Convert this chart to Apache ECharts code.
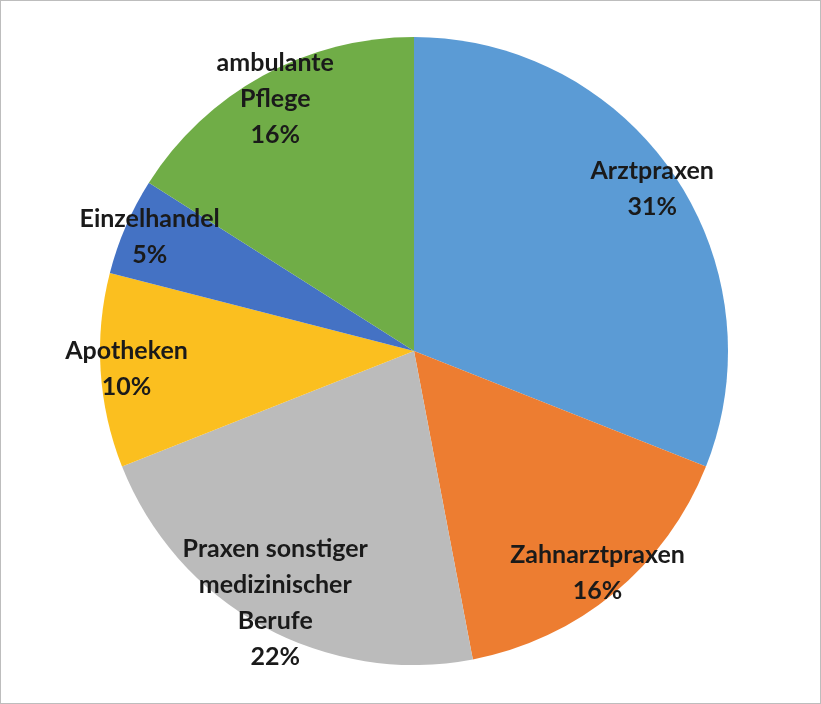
<!DOCTYPE html>
<html>
<head>
<meta charset="utf-8">
<script src="https://cdn.jsdelivr.net/npm/echarts@6/dist/echarts.min.js"></script>
<style>
  html, body { margin: 0; padding: 0; background: #fff; }
  #chart { width: 819px; height: 702px; border: 1px solid #bdbdbd; }
</style>
</head>
<body>
<div id="chart"></div>
<script>
// Anteile je Bereich, im Uhrzeigersinn ab 12 Uhr
var categories = ['Arztpraxen', 'Zahnarztpraxen', 'Praxen sonstiger\nmedizinischer\nBerufe', 'Apotheken', 'Einzelhandel', 'ambulante\nPflege'];
var values = [31, 16, 22, 10, 5, 16];
var colors = ['#5B9BD5', '#ED7D31', '#BBBBBB', '#FBBF1F', '#4472C4', '#70AD47'];

var chart = echarts.init(document.getElementById('chart'));

var pieData = categories.map(function (c, i) {
    return {name: c, value: values[i], itemStyle: {color: colors[i]}};
});
// zweite (unsichtbare) Serie nur für die Beschriftung weiter außen
var labelData = categories.map(function (c, i) {
    return {name: c, value: values[i]};
});

chart.setOption({
    animation: false,
    series: [
        {
            type: 'pie',
            center: [413, 350],
            radius: [0, 314],
            startAngle: 90,
            clockwise: true,
            label: {show: false},
            labelLine: {show: false},
            itemStyle: {borderColor: '#fff', borderWidth: 0},
            data: pieData
        },
        {
            type: 'pie',
            silent: true,
            center: [413, 350],
            radius: [0, 570],
            startAngle: 90,
            clockwise: true,
            itemStyle: {color: 'rgba(0,0,0,0)'},
            labelLine: {show: false},
            label: {
                show: true,
                position: 'inside',
                formatter: function (p) { return p.name + '\n' + p.value + '%'; },
                color: '#1a1a1a',
                fontFamily: 'Lato, "Open Sans", sans-serif',
                fontWeight: 'bold',
                fontSize: 25,
                lineHeight: 36,
                align: 'center'
            },
            data: labelData
        }
    ]
});
</script>
</body>
</html>
